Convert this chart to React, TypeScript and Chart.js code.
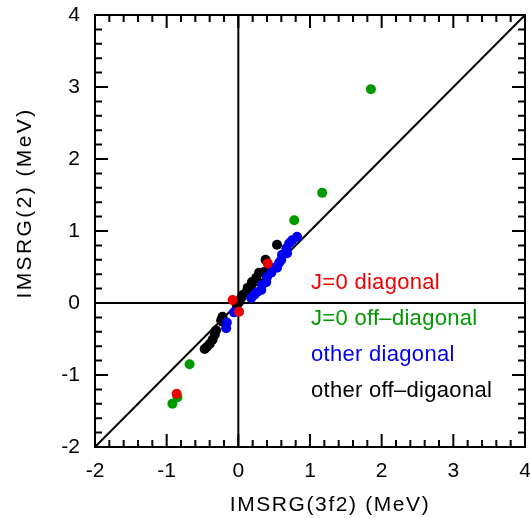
import React, { useEffect, useRef } from "react";
import { Chart, registerables } from "chart.js";

Chart.register(...registerables);

const xTitle = "IMSRG(3f2) (MeV)";
const yTitle = "IMSRG(2) (MeV)";
const legendLabels = ["J=0 diagonal", "J=0 off\u2013diagonal", "other diagonal", "other off\u2013digaonal"];
const seriesColors = ["#ee0000", "#009900", "#0000ee", "#000000"];

const axisMin = -2;
const axisMax = 4;

// J=0 diagonal
const redX = [-0.86, -0.08, 0.01, 0.41];
const redY = [-1.26, 0.04, -0.12, 0.55];
// J=0 off-diagonal
const greenX = [1.85, 1.17, 0.78, -0.68, -0.85, -0.92];
const greenY = [2.97, 1.53, 1.15, -0.85, -1.31, -1.4];
// other diagonal
const blueX = [0.82, 0.75, 0.71, 0.67, 0.68, 0.61, 0.6, 0.57, 0.54, 0.47, 0.46, 0.4, 0.39, 0.33, 0.32, 0.26, 0.22, 0.18, -0.06, -0.16, -0.17];
const blueY = [0.92, 0.87, 0.83, 0.76, 0.69, 0.67, 0.6, 0.56, 0.49, 0.49, 0.42, 0.36, 0.29, 0.25, 0.18, 0.15, 0.11, 0.07, -0.13, -0.27, -0.35];
// other off-diagonal
const blackX = [0.54, 0.38, 0.36, 0.29, 0.25, 0.19, 0.18, 0.13, 0.11, 0.06, 0.04, 0.01, -0.02, -0.22, -0.24, -0.22, -0.31, -0.33, -0.36, -0.4, -0.44, -0.47];
const blackY = [0.81, 0.6, 0.43, 0.42, 0.35, 0.29, 0.25, 0.21, 0.15, 0.11, 0.07, 0.01, -0.03, -0.19, -0.24, -0.26, -0.38, -0.44, -0.51, -0.57, -0.61, -0.64];

const zip = (xs: number[], ys: number[]) => xs.map((x, i) => ({ x, y: ys[i] }));

const framePlugin = {
  id: "framePlugin",
  afterDraw(chart: any) {
    const { ctx, chartArea } = chart;
    const xs = chart.scales.x;
    const ys = chart.scales.y;
    const { left, right, top, bottom } = chartArea;
    ctx.save();
    ctx.strokeStyle = "#000";
    ctx.lineWidth = 2;
    ctx.strokeRect(left, top, right - left, bottom - top);
    ctx.beginPath();
    for (let i = 0; i <= 30; i++) {
      const v = axisMin + i * 0.2;
      const major = i % 5 === 0;
      const len = major ? 13 : 7;
      const px = xs.getPixelForValue(v);
      const py = ys.getPixelForValue(v);
      ctx.moveTo(px, bottom);
      ctx.lineTo(px, bottom - len);
      ctx.moveTo(px, top);
      ctx.lineTo(px, top + len);
      ctx.moveTo(left, py);
      ctx.lineTo(left + len, py);
      ctx.moveTo(right, py);
      ctx.lineTo(right - len, py);
    }
    ctx.stroke();

    // axis titles
    ctx.fillStyle = "#000";
    ctx.font = "21px 'Liberation Sans', Arial, sans-serif";
    (ctx as any).letterSpacing = "1.6px";
    ctx.textAlign = "center";
    ctx.textBaseline = "alphabetic";
    ctx.fillText(xTitle, 330, 511);
    ctx.save();
    ctx.translate(31, 203);
    ctx.rotate(-Math.PI / 2);
    (ctx as any).letterSpacing = "2.4px";
    ctx.fillText(yTitle, 0, 0);
    ctx.restore();

    // legend text
    ctx.font = "22px 'Liberation Sans', Arial, sans-serif";
    (ctx as any).letterSpacing = "0.3px";
    ctx.textAlign = "left";
    const baselines = [289, 325, 361, 397];
    legendLabels.forEach((t, i) => {
      ctx.fillStyle = seriesColors[i];
      ctx.fillText(t, 311, baselines[i]);
    });
    ctx.restore();
  },
};

export default function App() {
  const ref = useRef<HTMLCanvasElement | null>(null);
  useEffect(() => {
    if (!ref.current) return;
    const pointDs = (label: string, xs: number[], ys: number[], color: string) => ({
      label,
      data: zip(xs, ys),
      backgroundColor: color,
      borderColor: color,
      borderWidth: 0,
      pointRadius: 5,
      pointHoverRadius: 5,
      showLine: false,
    });
    const lineDs = (data: { x: number; y: number }[]) => ({
      label: "",
      data,
      borderColor: "#000",
      borderWidth: 2,
      pointRadius: 0,
      showLine: true,
      fill: false,
    });
    const chart = new Chart(ref.current, {
      type: "scatter",
      data: {
        datasets: [
          pointDs(legendLabels[0], redX, redY, seriesColors[0]),
          pointDs(legendLabels[1], greenX, greenY, seriesColors[1]),
          pointDs(legendLabels[2], blueX, blueY, seriesColors[2]),
          pointDs(legendLabels[3], blackX, blackY, seriesColors[3]),
          lineDs([{ x: axisMin, y: axisMin }, { x: axisMax, y: axisMax }]),
          lineDs([{ x: 0, y: axisMin }, { x: 0, y: axisMax }]),
          lineDs([{ x: axisMin, y: 0 }, { x: axisMax, y: 0 }]),
        ] as any,
      },
      options: {
        animation: false,
        responsive: false,
        devicePixelRatio: 1,
        layout: { padding: { left: 0, right: 3, top: 15, bottom: 0 } },
        plugins: { legend: { display: false }, tooltip: { enabled: false } },
        scales: {
          x: {
            type: "linear",
            min: axisMin,
            max: axisMax,
            afterFit: (s: any) => {
              s.height = 71;
              s.paddingLeft = 0;
              s.paddingRight = 0;
            },
            grid: { display: false, drawTicks: false },
            border: { display: false },
            ticks: {
              stepSize: 1,
              padding: 12,
              color: "#000",
              font: { family: "'Liberation Sans', Arial, sans-serif", size: 21 },
              maxRotation: 0,
            },
          },
          y: {
            type: "linear",
            min: axisMin,
            max: axisMax,
            afterFit: (s: any) => {
              s.width = 95;
              s.paddingTop = 0;
              s.paddingBottom = 0;
            },
            grid: { display: false, drawTicks: false },
            border: { display: false },
            ticks: {
              stepSize: 1,
              padding: 15,
              color: "#000",
              font: { family: "'Liberation Sans', Arial, sans-serif", size: 21 },
            },
          },
        },
      },
      plugins: [framePlugin],
    } as any);
    return () => chart.destroy();
  }, []);
  return (
    <div style={{ position: "absolute", left: 0, top: 0, width: 530, height: 518, background: "#fff" }}>
      <canvas ref={ref} width={530} height={518} />
    </div>
  );
}
